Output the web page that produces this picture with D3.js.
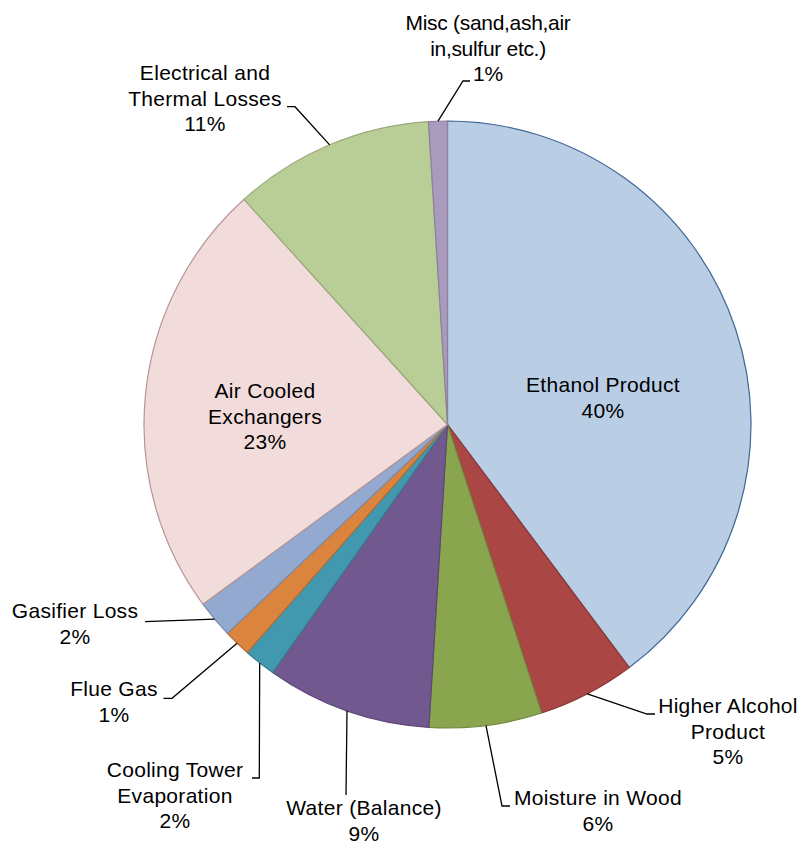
<!DOCTYPE html>
<html>
<head>
<meta charset="utf-8">
<script src="https://cdn.jsdelivr.net/npm/d3@7"></script>
<style>
  html, body { margin: 0; padding: 0; background: #ffffff; }
  svg { display: block; }
  text { font-family: "Liberation Sans", Arial, sans-serif; font-size: 21px; fill: #000; letter-spacing: 0.3px; }
</style>
</head>
<body>
<script>
// ---- Data ----
const categories = ["Ethanol Product", "Higher Alcohol Product", "Moisture in Wood", "Water (Balance)",
  "Cooling Tower Evaporation", "Flue Gas", "Gasifier Loss", "Air Cooled Exchangers",
  "Electrical and Thermal Losses", "Misc (sand,ash,air in,sulfur etc.)"];
const values = [39.8, 5.2, 6.0, 8.8, 1.7, 1.45, 2.0, 23.4, 10.7, 1.0];
const labelLines = [
  ["Ethanol Product"], ["Higher Alcohol", "Product"], ["Moisture in Wood"], ["Water (Balance)"],
  ["Cooling Tower", "Evaporation"], ["Flue Gas"], ["Gasifier Loss"], ["Air Cooled", "Exchangers"],
  ["Electrical and", "Thermal Losses"], ["Misc (sand,ash,air", "in,sulfur etc.)"]
];
const fills = ["#B9CDE5", "#AA4643", "#89A54E", "#71588F", "#4198AF", "#DB843D", "#93A9CF", "#F2DCDB", "#B9CD96", "#A99BBD"];
const strokes = ["#3F6797", "#8C3836", "#71893F", "#5C4776", "#357D91", "#B66D31", "#7A8DAF", "#B89594", "#9AAB7C", "#8C819D"];

// ---- Layout (label anchors: centre x, first baseline y; leader: elbow and end points) ----
const cx = 447.5, cy = 424.5, R = 303.5;
const lineH = 25.5;
const labelLayout = [
  { x: 603, y: 392, leader: null, ls: 0.3 },
  { x: 728, y: 713, leader: [[647, 714], [655, 714]], ls: 0.3 },
  { x: 598, y: 805, leader: [[502, 806], [510, 806]], ls: 0.3 },
  { x: 364, y: 815, leader: [[346, 795]], ls: 0.3 },
  { x: 175, y: 777, leader: [[259.3, 778], [252, 778]], ls: 0.3 },
  { x: 114, y: 696, leader: [[172, 698.3], [163.5, 698.3]], ls: 0.3 },
  { x: 75,  y: 618, leader: [[145, 621.7]], ls: 0.3 },
  { x: 265, y: 398, leader: null, ls: 0.3 },
  { x: 205, y: 80,  leader: [[295, 106.7], [287, 106.7]], ls: 0.3 },
  { x: 488, y: 30,  leader: [[463, 81], [470, 81]], ls: -0.3 }
];

const W = 799, H = 844;
const svg = d3.select("body").append("svg").attr("width", W).attr("height", H);
const g = svg.append("g").attr("transform", `translate(${cx},${cy})`);

const pie = d3.pie().sort(null).value(d => d).startAngle(0).endAngle(2 * Math.PI);
const arcs = pie(values);
const arc = d3.arc().innerRadius(0).outerRadius(R);

g.selectAll("path.slice").data(arcs).join("path")
  .attr("class", "slice")
  .attr("d", arc)
  .attr("fill", (d, i) => fills[i])
  .attr("stroke", (d, i) => strokes[i])
  .attr("stroke-width", 1.2)
  .attr("stroke-linejoin", "round");

// Leader lines from the slice's mid-angle on the rim
arcs.forEach((d, i) => {
  const L = labelLayout[i];
  if (!L.leader) return;
  const a = (d.startAngle + d.endAngle) / 2;
  const sx = cx + R * Math.sin(a), sy = cy - R * Math.cos(a);
  const pts = [[sx, sy]].concat(L.leader);
  svg.append("path")
    .attr("d", d3.line()(pts))
    .attr("fill", "none")
    .attr("stroke", "#000")
    .attr("stroke-width", 1.3);
});

// Labels
arcs.forEach((d, i) => {
  const L = labelLayout[i];
  const pct = Math.round(values[i] / d3.sum(values) * 100) + "%";
  const lines = labelLines[i].concat([pct]);
  const t = svg.append("text").attr("text-anchor", "middle").style("letter-spacing", L.ls + "px");
  lines.forEach((s, k) => {
    t.append("tspan").attr("x", L.x).attr("y", L.y + k * lineH).text(s);
  });
});
</script>
</body>
</html>
